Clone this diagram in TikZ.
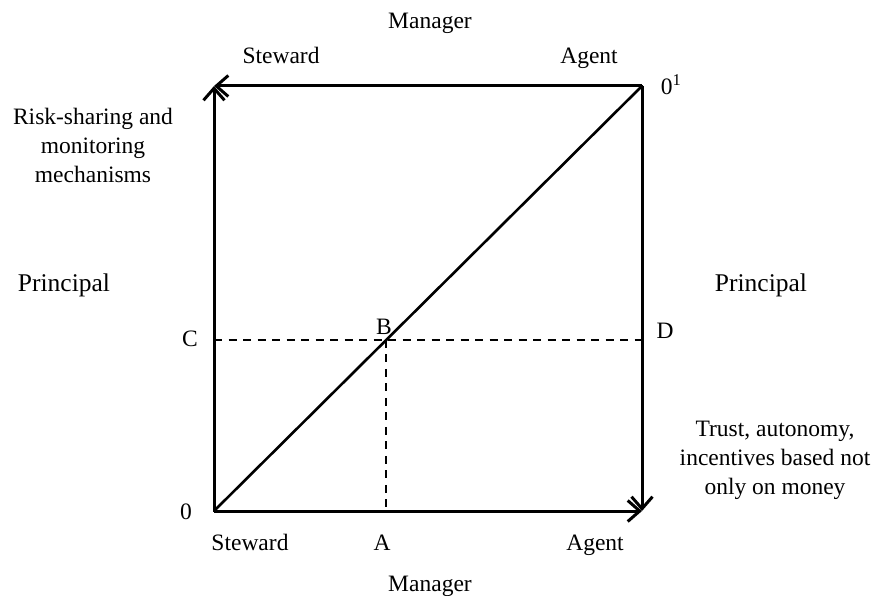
\documentclass[tikz,border=0pt]{standalone}
\usepackage{fontspec}
\setmainfont{Liberation Serif}
\usetikzlibrary{arrows.meta,calc}

\tikzset{
  axis/.style={line width=3pt, -{Straight Barb[length=12pt,width=21pt]}},
  diag/.style={line width=2.6pt, line cap=round},
  guide/.style={line width=2pt, dash pattern=on 8pt off 6.5pt},
  lbl/.style={font=\fontsize{23.5}{29}\selectfont, inner sep=0pt, align=center},
  bl/.style={lbl, anchor=base},
  big/.style={font=\fontsize{25.5}{30}\selectfont, inner sep=0pt, anchor=base}
}

\begin{document}
\begin{tikzpicture}[x=1pt,y=-1pt]
  \useasboundingbox (0,0) rectangle (875,596);

  % corners of the square
  \coordinate (O)  at (214,511);
  \coordinate (O1) at (642,86);
  \coordinate (TL) at (214,86);
  \coordinate (BR) at (642,511);

  % point B on the diagonal and its projections
  \coordinate (Bpt) at ($(O)!0.4024!(O1)$);
  \coordinate (Cpt) at (Bpt -| O);
  \coordinate (Dpt) at (Bpt -| O1);
  \coordinate (Apt) at (Bpt |- O);

  % dashed guides
  \draw[guide] (Cpt) -- (Dpt);
  \draw[guide] (Bpt) -- (Apt);

  % diagonal
  \draw[diag] (O) -- (O1);

  % axes
  \draw[axis] (O) -- (TL);
  \draw[axis] (O1) -- (TL);
  \draw[axis] (O1) -- (BR);
  \draw[axis] (O) -- (BR);

  % labels
  \node[bl] (mgrTop) at (430,29) {Manager};
  \node[bl] (stwTop) at (281,64) {Steward};
  \node[bl] (agtTop) at (589,64) {Agent};
  \node[bl] (oneLbl) at (671,95) {0\textsuperscript{1}};

  \node[lbl] (riskTxt) at (93,145) {Risk-sharing and\\monitoring\\mechanisms};

  \node[big] (prinL) at (64,291) {Principal};
  \node[big] (prinR) at (761,291) {Principal};

  \node[bl] (cLbl) at (190,346) {C};
  \node[bl] (bLbl) at (384,334) {B};
  \node[bl] (dLbl) at (665,338) {D};

  \node[lbl] (trustTxt) at (775,460) {Trust, autonomy,\\incentives based not\\only on money};

  \node[bl] (zeroLbl) at (186,519) {0};
  \node[bl] (stwBot) at (250,550) {Steward};
  \node[bl] (aLbl)   at (382,550) {A};
  \node[bl] (agtBot) at (595,550) {Agent};
  \node[bl] (mgrBot) at (430,591) {Manager};
\end{tikzpicture}
\end{document}
